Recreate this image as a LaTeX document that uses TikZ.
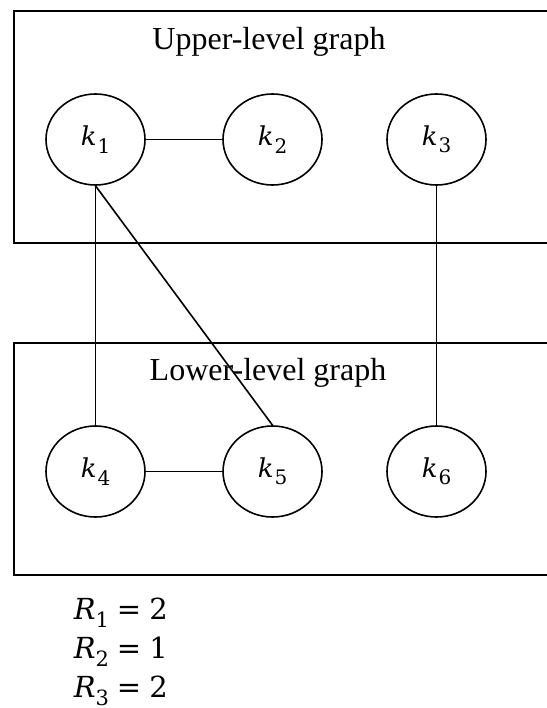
\documentclass[tikz,border=0pt]{standalone}
\usepackage{fontspec}
\setmainfont{Liberation Serif}
\newfontfamily\mfont{DejaVu Serif}
\newcommand\lowsub[2]{\raisebox{-0.28em}{\fontsize{#1}{#1}\selectfont #2}}
\usetikzlibrary{shapes.geometric}
\begin{document}
\begin{tikzpicture}[x=1pt,y=-1pt,
  line width=1.6pt,
  vertex/.style={draw,ellipse,minimum width=99pt,minimum height=91pt,inner sep=0pt,font=\mfont\fontsize{26}{30}\selectfont},
  title/.style={font=\fontsize{32}{37}\selectfont,inner sep=0pt},
  rline/.style={anchor=west,font=\mfont\fontsize{29}{34}\selectfont,inner sep=0pt}]
\useasboundingbox (0,0) rectangle (546,708);
% boxes (right side runs off the picture)
\draw (547,11) -- (14,11) -- (14,243) -- (547,243);
\draw (547,343) -- (14,343) -- (14,575) -- (547,575);
\node[title] (tu) at (269,42) {Upper-level graph};
\node[title] (tl) at (268,373) {Lower-level graph};
\node[vertex] (k1) at (95.5,139.5) {\textit{k}\hspace{1pt}\lowsub{20}{1}};
\node[vertex] (k2) at (272.5,139.5) {\textit{k}\hspace{1pt}\lowsub{20}{2}};
\node[vertex] (k3) at (436.5,139.5) {\textit{k}\hspace{1pt}\lowsub{20}{3}};
\node[vertex] (k4) at (95.5,471.5) {\textit{k}\hspace{1pt}\lowsub{20}{4}};
\node[vertex] (k5) at (272.5,471.5) {\textit{k}\hspace{1pt}\lowsub{20}{5}};
\node[vertex] (k6) at (436.5,471.5) {\textit{k}\hspace{1pt}\lowsub{20}{6}};
\draw (k1) -- (k2);
\draw (k4) -- (k5);
\draw (k1.south) -- (k4.north);
\draw (k1.south) -- (k5.north);
\draw (k3.south) -- (k6.north);
\node[rline] (r1) at (73,613) {\textit{R}\lowsub{21}{1}\hspace{8pt}=\hspace{8pt}2};
\node[rline] (r2) at (73,652) {\textit{R}\lowsub{21}{2}\hspace{8pt}=\hspace{8pt}1};
\node[rline] (r3) at (73,691) {\textit{R}\lowsub{21}{3}\hspace{8pt}=\hspace{8pt}2};
\end{tikzpicture}
\end{document}
